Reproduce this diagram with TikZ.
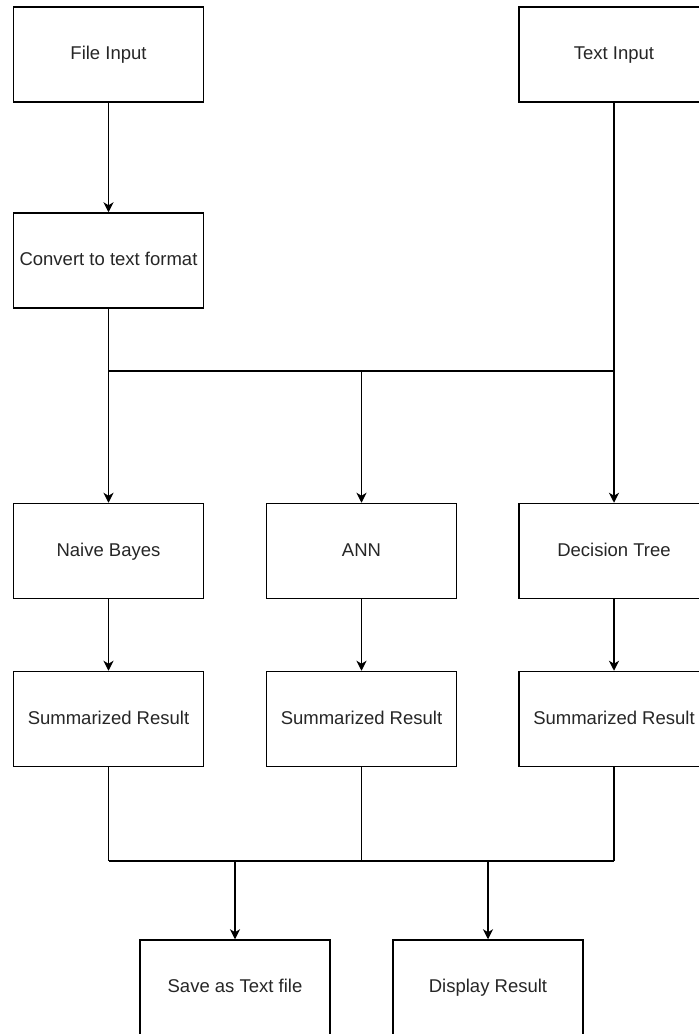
\documentclass[tikz,border=0pt]{standalone}
\usepackage{fontspec}
\setmainfont{Liberation Sans}
\usetikzlibrary{arrows.meta}

\tikzset{
  stepbox/.style={draw=black, line width=1.5pt, fill=white, minimum width=190pt,
    minimum height=95pt, inner sep=0pt, text height=13.5pt, text depth=3.5pt,
    font=\fontsize{18.5}{22}\selectfont, text=black!85},
  wire/.style={draw=black, line width=1.5pt},
  arr/.style={wire, -{Stealth[length=10pt,width=10pt,inset=3pt]}}
}

\begin{document}
\begin{tikzpicture}[x=1pt, y=-1pt]
  \useasboundingbox (0,0) rectangle (699,1034);
  \clip (0,0) rectangle (699,1034);
  \fill[white] (0,0) rectangle (699,1034);

  % inputs
  \node[stepbox] (file) at (108.5,54.5) {File Input};
  \node[stepbox] (txt)  at (614,54.5)   {Text Input};
  \node[stepbox] (conv) at (108.5,260.5) {Convert to text format};

  % classifiers
  \node[stepbox] (nb)  at (108.5,551) {Naive Bayes};
  \node[stepbox] (ann) at (361.5,551) {ANN};
  \node[stepbox] (dt)  at (614,551)   {Decision Tree};

  % summaries
  \node[stepbox] (s1) at (108.5,719) {Summarized Result};
  \node[stepbox] (s2) at (361.5,719) {Summarized Result};
  \node[stepbox] (s3) at (614,719)   {Summarized Result};

  % outputs
  \node[stepbox] (save) at (235,987.5) {Save as Text file};
  \node[stepbox] (disp) at (488,987.5) {Display Result};

  % junction points on the two buses
  \coordinate (j1) at (108.5,371);
  \coordinate (j2) at (361.5,371);
  \coordinate (j3) at (614,371);
  \coordinate (k1) at (108.5,861);
  \coordinate (k2) at (361.5,861);
  \coordinate (k3) at (614,861);
  \coordinate (k4) at (235,861);
  \coordinate (k5) at (488,861);

  % top part
  \draw[arr] (file) -- (conv);
  \draw[wire] (conv.south) -- (j1);
  \draw[wire] (j1) -- (j3);
  \draw[arr] (txt) -- (dt);
  \draw[arr] (j1) -- (nb);
  \draw[arr] (j2) -- (ann);

  % classifiers to summaries
  \draw[arr] (nb) -- (s1);
  \draw[arr] (ann) -- (s2);
  \draw[arr] (dt) -- (s3);

  % bottom bus
  \draw[wire] (s1.south) -- (k1);
  \draw[wire] (s2.south) -- (k2);
  \draw[wire] (s3.south) -- (k3);
  \draw[wire] (k1) -- (k3);
  \draw[arr] (k4) -- (save);
  \draw[arr] (k5) -- (disp);
\end{tikzpicture}
\end{document}
